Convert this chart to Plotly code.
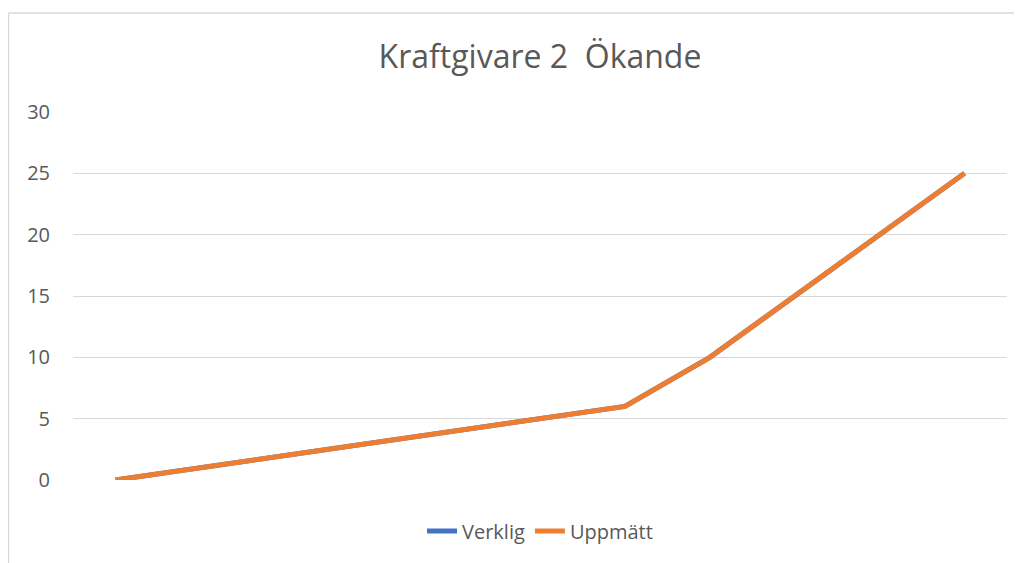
import plotly.graph_objects as go

categories = ["1", "2", "3", "4", "5", "6", "7", "8", "9", "10", "11"]
verklig = [0, 1, 2, 3, 4, 5, 6, 10, 15, 20, 25]
uppmatt = [0, 1, 2, 3, 4, 5, 6, 10, 15, 20, 25]
title_text = "Kraftgivare 2  Ökande"

# page body has an 8px default margin; compensate so the figure lines up with the window
OFF = 8
W, H = 1022 - OFF, 563 - OFF
L, R, T, B = 73 - OFF, 15, 112 - OFF, 83
pw, ph = W - L - R, H - T - B

fig = go.Figure()
fig.add_trace(go.Scatter(x=categories, y=verklig, mode="lines", name="Verklig",
                         line=dict(color="#4472C4", width=5)))
fig.add_trace(go.Scatter(x=categories, y=uppmatt, mode="lines", name="Uppmätt",
                         line=dict(color="#ED7D31", width=5)))

def px_x(x):
    return (x - OFF - L) / pw

def px_y(y):
    return (H - B - (y - OFF)) / ph

border = "#d9d9d9"
fig.add_shape(type="line", xref="paper", yref="paper",
              x0=px_x(8.5), x1=px_x(1030), y0=px_y(13), y1=px_y(13),
              line=dict(color=border, width=1.5))
fig.add_shape(type="line", xref="paper", yref="paper",
              x0=px_x(8.5), x1=px_x(8.5), y0=px_y(13), y1=px_y(570),
              line=dict(color=border, width=1.5))

fig.update_layout(
    width=W, height=H,
    margin=dict(l=L, r=R, t=T, b=B),
    paper_bgcolor="white", plot_bgcolor="white",
    title=dict(text=title_text, x=0.5, xanchor="center", xref="paper",
               y=1 - (57 - OFF) / H, yanchor="middle", yref="container",
               font=dict(family="Open Sans", size=32, color="#595959")),
    font=dict(family="Open Sans", color="#595959"),
    showlegend=True,
    legend=dict(orientation="h", x=0.5, xanchor="center", xref="paper",
                y=px_y(531), yanchor="middle",
                font=dict(size=20, color="#595959"),
                itemwidth=30, bgcolor="rgba(0,0,0,0)"),
    xaxis=dict(type="category", range=[-0.5, 10.5], showticklabels=False,
               showgrid=False, zeroline=False, showline=False, ticks=""),
    yaxis=dict(range=[0, 30], dtick=5, tick0=0, showgrid=True,
               gridcolor="#d9d9d9", gridwidth=1, zeroline=False,
               showline=False, ticks="", ticklabelstandoff=22,
               tickfont=dict(size=20, color="#595959")),
)

fig.write_html("out.html")
